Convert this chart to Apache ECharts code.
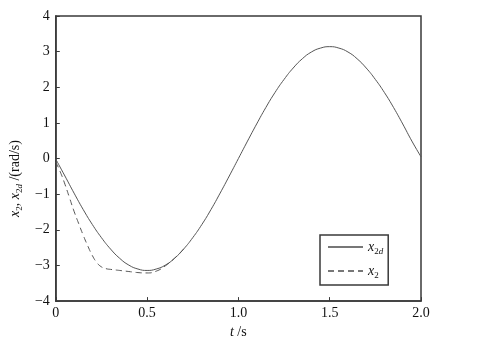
<!DOCTYPE html>
<html>
<head>
<meta charset="utf-8">
<script src="https://cdn.jsdelivr.net/npm/echarts@6/dist/echarts.min.js"></script>
<style>
html,body{margin:0;padding:0;background:#fff;}
#c{width:480px;height:344px;}
</style>
</head>
<body>
<div id="c"></div>
<script>
// time samples (s) and values
const tDesired = [0,0.05,0.10,0.15,0.20,0.25,0.30,0.35,0.40,0.45,0.50,0.55,0.60,0.65,0.70,0.75,0.80,0.85,0.90,0.95,1.00,1.05,1.10,1.15,1.20,1.25,1.30,1.35,1.40,1.45,1.50,1.55,1.60,1.65,1.70,1.75,1.80,1.85,1.90,1.95,2.00];
const x2dValues = [-0.02,-0.49,-0.97,-1.43,-1.85,-2.22,-2.54,-2.80,-2.99,-3.10,-3.14,-3.10,-2.99,-2.80,-2.54,-2.22,-1.85,-1.43,-0.97,-0.49,0.00,0.49,0.97,1.43,1.85,2.22,2.54,2.80,2.99,3.10,3.14,3.10,2.99,2.80,2.54,2.22,1.85,1.43,0.97,0.49,0.05];
const tActual = [0,0.025,0.05,0.075,0.10,0.125,0.15,0.175,0.20,0.225,0.25,0.275,0.30,0.35,0.40,0.45,0.50,0.55,0.60,0.65,0.70];
const x2Values = [-0.10,-0.38,-0.72,-1.10,-1.48,-1.82,-2.15,-2.45,-2.72,-2.92,-3.04,-3.09,-3.11,-3.14,-3.17,-3.20,-3.21,-3.16,-3.01,-2.80,-2.54];
const xTicks = [0,0.5,1.0,1.5,2.0];
const yTicks = [-4,-3,-2,-1,0,1,2,3,4];

const FONT = 'Liberation Serif';
const axisCol = '#3a3a3a';
const lineCol = '#555555';

const chart = echarts.init(document.getElementById('c'), null, {renderer:'canvas'});
const pair = (ts, vs) => ts.map((t,i)=>[t, vs[i]]);
const richBase = {
  i:{fontFamily:FONT,fontStyle:'italic',fontSize:14,color:'#111',lineHeight:18,verticalAlign:'middle'},
  n:{fontFamily:FONT,fontSize:14,color:'#111',lineHeight:18,verticalAlign:'middle'},
  s:{fontFamily:FONT,fontSize:9,color:'#111',lineHeight:12,verticalAlign:'bottom'},
  si:{fontFamily:FONT,fontSize:9,fontStyle:'italic',color:'#111',lineHeight:12,verticalAlign:'bottom'}
};
chart.setOption({
  animation:false,
  backgroundColor:'#fff',
  grid:{left:52,top:16,right:59,bottom:35,show:true,borderColor:axisCol,borderWidth:1.5,backgroundColor:'transparent'},
  xAxis:{
    type:'value',min:xTicks[0],max:xTicks[xTicks.length-1],interval:0.5,
    axisLine:{show:true,onZero:false,lineStyle:{color:axisCol,width:1.5}},
    axisTick:{show:true,inside:true,length:4,lineStyle:{color:axisCol,width:1}},
    splitLine:{show:false},
    axisLabel:{fontFamily:FONT,fontSize:14,color:'#111',margin:5,
      formatter:v=> v===0 ? '0' : v.toFixed(1)},
    name:'{i|t} {n|/s}',nameLocation:'middle',nameGap:19,
    nameTextStyle:{rich:richBase}
  },
  yAxis:{
    type:'value',min:yTicks[0],max:yTicks[yTicks.length-1],interval:1,
    axisLine:{show:true,onZero:false,lineStyle:{color:axisCol,width:1.5}},
    axisTick:{show:true,inside:true,length:4,lineStyle:{color:axisCol,width:1}},
    splitLine:{show:false},
    axisLabel:{fontFamily:FONT,fontSize:14,color:'#111',margin:6,
      formatter:v=> String(v).replace('-','\u2212')},
    name:'{i|x}{s|2}{n|, }{i|x}{s|2}{si|d}{n| /(rad/s)}',nameLocation:'middle',nameGap:14,
    nameTextStyle:{rich:richBase,padding:[0,40,0,0]}
  },
  legend:{
    left:320,top:235,orient:'vertical',
    padding:[5,5,5,7],itemGap:8,itemWidth:35,itemHeight:14,
    borderColor:axisCol,borderWidth:1.5,backgroundColor:'#fff',
    itemStyle:{opacity:0},
    lineStyle:{color:'#777777'},
    data:['x2d','x2'],
    formatter:n=> n==='x2d' ? '{i|x}{s|2}{si|d}' : '{i|x}{s|2}',
    textStyle:{rich:richBase}
  },
  series:[
    {name:'x2d',type:'line',data:pair(tDesired,x2dValues),smooth:true,showSymbol:false,symbol:'none',
     lineStyle:{color:lineCol,width:1,type:'solid'},itemStyle:{color:lineCol},z:3},
    {name:'x2',type:'line',data:pair(tActual,x2Values),smooth:true,showSymbol:false,symbol:'none',
     lineStyle:{color:lineCol,width:1,type:[6,4]},itemStyle:{color:lineCol},z:2}
  ]
});
</script>
</body>
</html>
